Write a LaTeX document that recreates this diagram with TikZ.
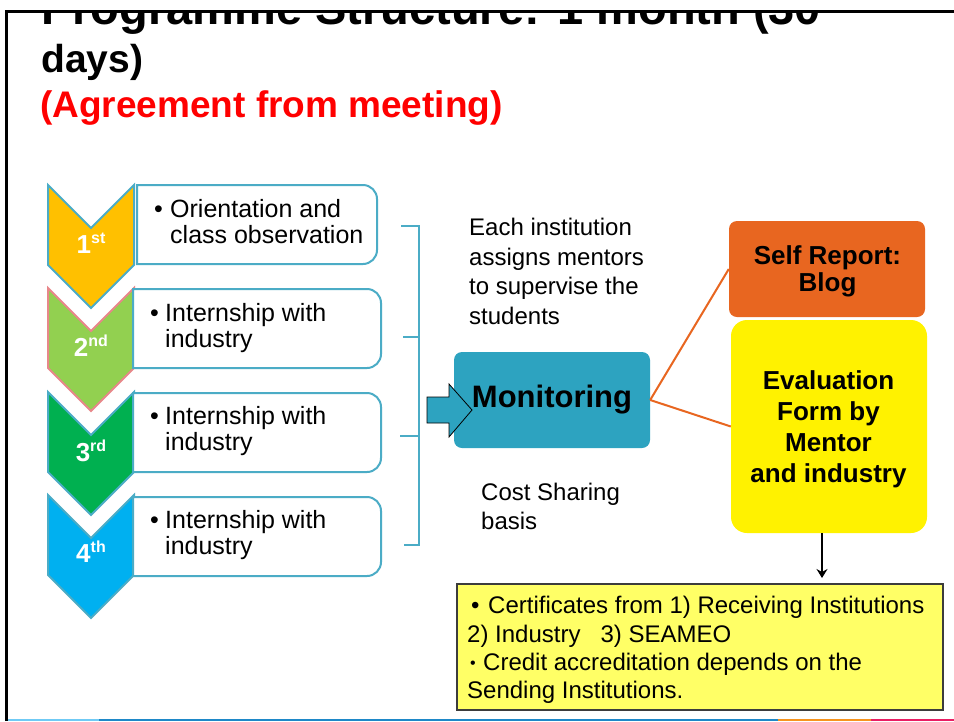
\documentclass[tikz,border=0pt]{standalone}
\usepackage{fontspec}
\setmainfont{Liberation Sans}
\usetikzlibrary{arrows.meta}
\definecolor{tealb}{RGB}{75,172,198}
\definecolor{pinkb}{RGB}{232,135,138}
\definecolor{goldf}{RGB}{255,192,0}
\definecolor{lgreen}{RGB}{146,208,80}
\definecolor{dgreen}{RGB}{0,176,80}
\definecolor{cyanf}{RGB}{0,176,240}
\definecolor{monfill}{RGB}{45,163,192}
\definecolor{orng}{RGB}{232,102,32}
\definecolor{lyellow}{RGB}{255,255,102}
\definecolor{certline}{RGB}{60,60,60}
\definecolor{barA}{RGB}{111,202,245}
\definecolor{barB}{RGB}{30,136,200}
\definecolor{barC}{RGB}{246,148,30}
\definecolor{barD}{RGB}{233,30,99}
\tikzset{
  txt/.style={anchor=base west, inner sep=0pt, font=\fontsize{25}{25}\selectfont},
  midtxt/.style={anchor=base west, inner sep=0pt, font=\fontsize{24}{24}\selectfont},
  boldc/.style={anchor=base, inner sep=0pt, font=\fontsize{26}{26}\selectfont\bfseries},
  chevlbl/.style={anchor=base, inner sep=0pt, text=white, font=\fontsize{26}{26}\selectfont\bfseries},
  chev/.style={line width=2pt, draw=tealb, line join=miter},
  stepframe/.style={draw=tealb, line width=2pt, fill=white},
  brk/.style={draw=tealb, line width=1.6pt},
  orline/.style={draw=orng, line width=2pt},
}
\newcommand{\supx}[1]{\raisebox{0.38em}{\fontsize{16}{16}\selectfont #1}}
\begin{document}
\begin{tikzpicture}[x=1pt,y=-1pt]
\useasboundingbox (0,0) rectangle (954,721);
\fill[white] (0,0) rectangle (954,721);

% title
\begin{scope}
\clip (0,11.5) rectangle (954,200);
\node[anchor=base west, inner sep=0pt, font=\fontsize{47}{47}\selectfont\bfseries] (t1) at (41,24) {Programme Structure: 1 month (30};
\end{scope}
\node[anchor=base west, inner sep=0pt, font=\fontsize{39}{39}\selectfont\bfseries] (t2) at (41,72) {days)};
\node[anchor=base west, inner sep=0pt, text={rgb,255:red,255;green,0;blue,0}, font=\fontsize{37}{37}\selectfont\bfseries] (t3) at (40,117) {(Agreement from meeting)};

% frame
\draw[line width=3pt] (6.3,721) -- (6.3,11.5) -- (954,11.5);
\fill[barA] (7.8,718.5) rectangle (99,721);
\fill[barB] (99,718.5) rectangle (778,721);
\fill[barC] (778,718.5) rectangle (871,721);
\fill[barD] (871,718.5) rectangle (954,721);

% chevrons
\filldraw[chev, fill=goldf] (48,185) -- (91,228) -- (134,185) -- (134,265) -- (91,308) -- (48,265) -- cycle;
\filldraw[chev, fill=lgreen, draw=pinkb] (48,288) -- (91,331) -- (134,288) -- (134,368) -- (91,411) -- (48,368) -- cycle;
\filldraw[chev, fill=dgreen] (48,392) -- (91,435) -- (134,392) -- (134,472) -- (91,515) -- (48,472) -- cycle;
\filldraw[chev, fill=cyanf] (48,495) -- (91,538) -- (134,495) -- (134,575) -- (91,618) -- (48,575) -- cycle;
\node[chevlbl] (c1) at (91,253) {1\supx{st}};
\node[chevlbl] (c2) at (91,356) {2\supx{nd}};
\node[chevlbl] (c3) at (91,461) {3\supx{rd}};
\node[chevlbl] (c4) at (91,562) {4\supx{th}};

% step boxes (rounded on the right)
\draw[stepframe] (137,185) -- (363,185) arc (-90:0:14) -- (377,250) arc (0:90:14) -- (137,264) -- cycle;
\draw[stepframe] (133,289) -- (367,289) arc (-90:0:14) -- (381,354) arc (0:90:14) -- (133,368) -- cycle;
\draw[stepframe] (133,393) -- (367,393) arc (-90:0:14) -- (381,458) arc (0:90:14) -- (133,472) -- cycle;
\draw[stepframe] (133,497) -- (367,497) arc (-90:0:14) -- (381,562) arc (0:90:14) -- (133,576) -- cycle;

\node[txt] (b1) at (154,217) {•};
\node[txt] (s1a) at (170,217) {Orientation and};
\node[txt] (s1b) at (170,243) {class observation};
\node[txt] (b2) at (150,321) {•};
\node[txt] (s2a) at (165,321) {Internship with};
\node[txt] (s2b) at (165,347) {industry};
\node[txt] (b3) at (150,424) {•};
\node[txt] (s3a) at (165,424) {Internship with};
\node[txt] (s3b) at (165,450) {industry};
\node[txt] (b4) at (150,528) {•};
\node[txt] (s4a) at (165,528) {Internship with};
\node[txt] (s4b) at (165,554) {industry};

% bracket
\draw[brk] (401,226) -- (419,226) -- (419,545) -- (404,545);
\draw[brk] (403,337) -- (419,337);
\draw[brk] (400,436) -- (419,436);

% mentors text
\node[midtxt] (m1) at (469,235.5) {Each institution};
\node[midtxt] (m2) at (469,265) {assigns mentors};
\node[midtxt] (m3) at (469,294.5) {to supervise the};
\node[midtxt] (m4) at (469,324) {students};
\node[midtxt] (cs1) at (481,500) {Cost Sharing};
\node[midtxt] (cs2) at (481,529) {basis};

% monitoring
\node[fill=monfill, rounded corners=8pt, minimum width=196pt, minimum height=96pt, inner sep=0pt,
      font=\fontsize{31}{31}\selectfont\bfseries] (mon) at (552,400) {Monitoring};
\filldraw[fill=monfill, draw=black, line width=0.8pt] (427,397) -- (449,397) -- (449,384) -- (472,410) -- (449,437) -- (449,423) -- (427,423) -- cycle;

% right side boxes
\node[fill=orng, rounded corners=8pt, minimum width=196pt, minimum height=96pt, inner sep=0pt] (self) at (827,269) {};
\node[fill=yellow, rounded corners=16pt, minimum width=196pt, minimum height=213pt, inner sep=0pt] (eval) at (829,426.5) {};
\node[boldc] (sr1) at (827.5,264) {Self Report:};
\node[boldc] (sr2) at (827.5,291) {Blog};
\node[boldc] (ev1) at (828.5,389) {Evaluation};
\node[boldc] (ev2) at (828.5,420) {Form by};
\node[boldc] (ev3) at (828.5,451) {Mentor};
\node[boldc] (ev4) at (828.5,482) {and industry};

\draw[orline] (mon.east) -- (self.west);
\draw[orline] (mon.east) -- (eval.west);

% certificate box
\node[fill=lyellow, draw=certline, line width=1.3pt, minimum width=486pt, minimum height=126pt, inner sep=0pt] (cert) at (700,647) {};
\coordinate (arrEnd) at (822,578);
\draw[line width=1.6pt, -{Stealth[length=9pt,width=11pt,inset=3pt]}] (eval.south -| arrEnd) -- (arrEnd);

\node[midtxt] (cb1) at (471,613) {•};
\node[midtxt] (cl1) at (488,613) {Certificates from 1) Receiving Institutions};
\node[midtxt] (cl2) at (467,642) {2) Industry~~~3) SEAMEO};
\node[anchor=base west, inner sep=0pt, font=\fontsize{16}{16}\selectfont] (cb3) at (470,668) {•};
\node[midtxt] (cl3) at (483,670) {Credit accreditation depends on the};
\node[midtxt] (cl4) at (467,698) {Sending Institutions.};
\end{tikzpicture}
\end{document}
